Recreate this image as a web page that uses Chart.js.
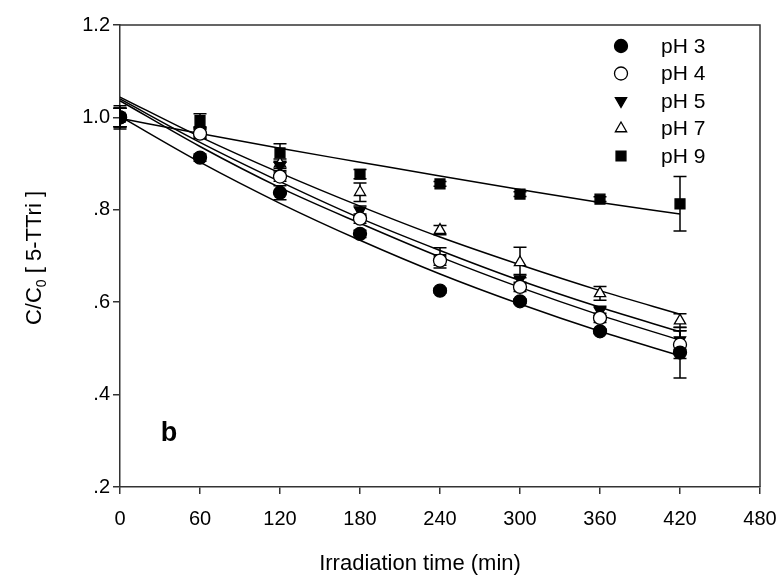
<!DOCTYPE html>
<html>
<head>
<meta charset="utf-8">
<script src="https://cdn.jsdelivr.net/npm/chart.js@4.4.1/dist/chart.umd.min.js"></script>
<style>
  html, body { margin: 0; padding: 0; background: #fff; }
  #wrap { width: 783px; height: 578px; }
</style>
</head>
<body>
<div id="wrap"><canvas id="chart" width="783" height="578"></canvas></div>
<script>
// irradiation times (min)
const times = [0, 60, 120, 180, 240, 300, 360, 420];
const xTicks = [0, 60, 120, 180, 240, 300, 360, 420, 480];
const yTicks = [0.2, 0.4, 0.6, 0.8, 1.0, 1.2];

// measured C/C0
const ph3 = [1.0, 0.913, 0.837, 0.748, 0.625, 0.602, 0.537, 0.491];
const ph4 = [1.0, 0.965, 0.872, 0.781, 0.690, 0.633, 0.566, 0.508];
const ph5 = [1.0, 0.970, 0.895, 0.798, 0.696, 0.650, 0.581, 0.518];
const ph7 = [1.0, 0.965, 0.900, 0.838, 0.756, 0.686, 0.619, 0.560];
const ph9 = [1.0, 0.993, 0.923, 0.877, 0.856, 0.834, 0.823, 0.813];

// error bars (+/-)
const err3 = [0.020, 0.008, 0.015, 0.008, 0.005, 0.005, 0.005, 0.055];
const err4 = [0.020, 0.010, 0.010, 0.010, 0.010, 0.010, 0.010, 0.030];
const err5 = [0.020, 0.010, 0.010, 0.010, 0.022, 0.010, 0.010, 0.020];
const err7 = [0.020, 0.010, 0.010, 0.020, 0.010, 0.033, 0.015, 0.015];
const err9 = [0.025, 0.015, 0.020, 0.010, 0.005, 0.005, 0.005, 0.059];

// fitted curves
const fit3 = [1.002, 0.903, 0.814, 0.734, 0.661, 0.596, 0.537, 0.484];
const fit4 = [1.036, 0.937, 0.848, 0.771, 0.698, 0.632, 0.572, 0.518];
const fit5 = [1.040, 0.946, 0.861, 0.782, 0.712, 0.647, 0.589, 0.536];
const fit7 = [1.044, 0.958, 0.880, 0.808, 0.741, 0.681, 0.625, 0.574];
const fit9 = [0.998, 0.965, 0.933, 0.903, 0.873, 0.844, 0.816, 0.791];

const FONT = "'Liberation Sans', Arial, sans-serif";

function pts(ys) {
    return times.map((t, i) => ({ x: t, y: ys[i] }));
}

function markerSet(label, ys, errs, style, fill, rotation) {
    return {
        label: label,
        data: pts(ys),
        errors: errs,
        showLine: false,
        pointStyle: style,
        pointRotation: rotation || 0,
        pointRadius: style === 'rect' ? 7 : 6.5,
        pointBorderWidth: 1.3,
        pointBackgroundColor: fill,
        pointBorderColor: '#000',
        order: 0,
    };
}

function fitSet(ys) {
    return {
        label: '_fit',
        data: pts(ys),
        showLine: true,
        borderColor: '#000',
        borderWidth: 1.5,
        pointRadius: 0,
        cubicInterpolationMode: 'monotone',
        fill: false,
        order: 10,
    };
}

const errorBars = {
    id: 'errorBars',
    beforeDatasetsDraw(chart) {
        const ctx = chart.ctx;
        const ys = chart.scales.y;
        ctx.save();
        ctx.strokeStyle = '#000';
        ctx.lineWidth = 1.5;
        chart.data.datasets.forEach((ds, di) => {
            if (!ds.errors) return;
            const meta = chart.getDatasetMeta(di);
            meta.data.forEach((el, i) => {
                const e = ds.errors[i];
                const v = ds.data[i].y;
                const top = ys.getPixelForValue(v + e);
                const bot = ys.getPixelForValue(v - e);
                const x = el.x;
                ctx.beginPath();
                ctx.moveTo(x, top); ctx.lineTo(x, bot);
                ctx.moveTo(x - 6.5, top); ctx.lineTo(x + 6.5, top);
                ctx.moveTo(x - 6.5, bot); ctx.lineTo(x + 6.5, bot);
                ctx.stroke();
            });
        });
        ctx.restore();
    }
};

const decorations = {
    id: 'decorations',
    afterDraw(chart) {
        const ctx = chart.ctx;
        const a = chart.chartArea;
        ctx.save();
        // frame top and right
        ctx.strokeStyle = '#333';
        ctx.lineWidth = 1.5;
        ctx.beginPath();
        ctx.moveTo(a.left, a.top); ctx.lineTo(a.right, a.top); ctx.lineTo(a.right, a.bottom);
        ctx.stroke();

        ctx.fillStyle = '#000';
        // x title
        ctx.font = '22px ' + FONT;
        ctx.textAlign = 'center';
        ctx.textBaseline = 'middle';
        ctx.fillText('Irradiation time (min)', 420, 564);

        // y title with subscript
        ctx.save();
        ctx.translate(35, 258);
        ctx.rotate(-Math.PI / 2);
        const p1 = 'C/C', sub = '0', p2 = ' [ 5-TTri ]';
        ctx.font = '22px ' + FONT;
        const w1 = ctx.measureText(p1).width;
        const w3 = ctx.measureText(p2).width;
        ctx.font = '14px ' + FONT;
        const w2 = ctx.measureText(sub).width;
        let x = -(w1 + w2 + w3) / 2;
        ctx.textAlign = 'left';
        ctx.font = '22px ' + FONT;
        ctx.fillText(p1, x, 0);
        ctx.font = '14px ' + FONT;
        ctx.fillText(sub, x + w1, 7);
        ctx.font = '22px ' + FONT;
        ctx.fillText(p2, x + w1 + w2, 0);
        ctx.restore();

        // panel letter
        ctx.font = 'bold 27px ' + FONT;
        ctx.textAlign = 'center';
        ctx.fillText('b', 169, 434);

        // legend
        const rows = chart.data.datasets.filter(d => d.errors);
        ctx.font = '21px ' + FONT;
        ctx.textAlign = 'left';
        rows.forEach((ds, i) => {
            const y = 46 + i * 27.5;
            ctx.fillStyle = ds.pointBackgroundColor;
            ctx.strokeStyle = '#000';
            ctx.lineWidth = 1.3;
            Chart.helpers.drawPoint(ctx, {
                pointStyle: ds.pointStyle,
                rotation: ds.pointRotation,
                radius: ds.pointRadius,
                borderWidth: 1.3,
            }, 621, y);
            ctx.fillStyle = '#000';
            ctx.fillText(ds.label, 661, y + 1);
        });
        ctx.restore();
    }
};

new Chart(document.getElementById('chart').getContext('2d'), {
    type: 'scatter',
    data: {
        datasets: [
            markerSet('pH 3', ph3, err3, 'circle', '#000'),
            markerSet('pH 4', ph4, err4, 'circle', '#fff'),
            markerSet('pH 5', ph5, err5, 'triangle', '#000', 180),
            markerSet('pH 7', ph7, err7, 'triangle', '#fff'),
            markerSet('pH 9', ph9, err9, 'rect', '#000'),
            fitSet(fit3),
            fitSet(fit4),
            fitSet(fit5),
            fitSet(fit7),
            fitSet(fit9),
        ],
    },
    options: {
        responsive: false,
        animation: false,
        layout: { padding: { top: 25, right: 23, left: 0, bottom: 0 } },
        plugins: {
            legend: { display: false },
            tooltip: { enabled: false },
        },
        scales: {
            x: {
                type: 'linear',
                min: 0,
                max: 480,
                afterBuildTicks: s => { s.ticks = xTicks.map(v => ({ value: v })); },
                afterFit: s => { s.height = 91; s.paddingLeft = 0; s.paddingRight = 0; },
                border: { display: true, color: '#333', width: 1.5 },
                grid: { display: true, drawOnChartArea: false, drawTicks: true, tickLength: 7, color: '#333', lineWidth: 1.5 },
                ticks: { color: '#000', font: { family: FONT, size: 20 }, padding: 13, maxRotation: 0 },
            },
            y: {
                type: 'linear',
                min: 0.2,
                max: 1.2,
                afterBuildTicks: s => { s.ticks = yTicks.map(v => ({ value: v })); },
                afterFit: s => { s.width = 120; s.paddingTop = 0; s.paddingBottom = 0; },
                border: { display: true, color: '#333', width: 1.5 },
                grid: { display: true, drawOnChartArea: false, drawTicks: true, tickLength: 7, color: '#333', lineWidth: 1.5 },
                ticks: {
                    color: '#000',
                    font: { family: FONT, size: 20 },
                    padding: 3,
                    callback: v => v >= 1 ? v.toFixed(1) : v.toFixed(1).replace(/^0/, ''),
                },
            },
        },
    },
    plugins: [errorBars, decorations],
});
</script>
</body>
</html>
